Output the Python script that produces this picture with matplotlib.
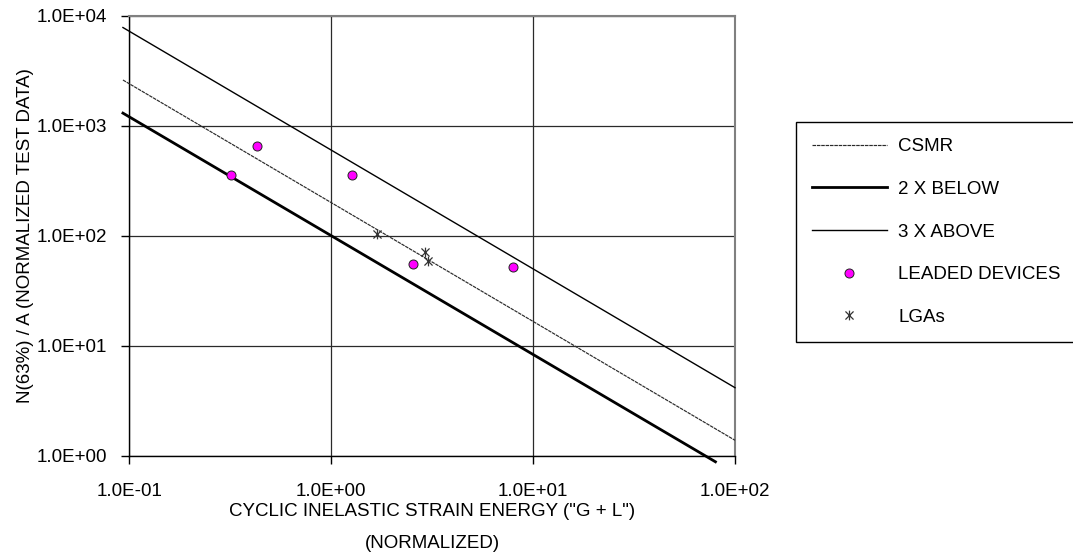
import matplotlib
matplotlib.use("Agg")
import matplotlib.pyplot as plt
from matplotlib.path import Path
from matplotlib.ticker import FuncFormatter, LogLocator, NullLocator

plt.rcParams["font.family"] = ["Liberation Sans", "DejaVu Sans"]
plt.rcParams["font.size"] = 13.5

# fitted life lines (end points)
csmr_x = [0.093, 100]
csmr_y = [2600, 1.38]
below_x = [0.093, 80]
below_y = [1300, 0.88]
above_x = [0.093, 100]
above_y = [7800, 4.15]

# test data
leaded_x = [0.32, 0.43, 1.27, 2.54, 7.96]
leaded_y = [357, 653, 357, 55, 52]
lga_x = [1.68, 2.92, 3.0]
lga_y = [103, 71, 59]

# excel-style star: X plus a vertical bar
star = Path([(-1, -1), (1, 1), (-1, 1), (1, -1), (0, -1.2), (0, 1.2)],
            [Path.MOVETO, Path.LINETO, Path.MOVETO, Path.LINETO,
             Path.MOVETO, Path.LINETO])

fig = plt.figure(figsize=(10.73, 5.57), dpi=100)
ax = fig.add_axes([0.1205, 0.1819, 0.5645, 0.790])

ax.plot(csmr_x, csmr_y, color="#2a2a2a", lw=0.85, ls=(0, (3, 0.7)),
        label="CSMR", clip_on=False, zorder=3)
ax.plot(below_x, below_y, color="black", lw=2.0, label="2 X BELOW",
        clip_on=False, zorder=3)
ax.plot(above_x, above_y, color="black", lw=1.0, label="3 X ABOVE",
        clip_on=False, zorder=3)
ax.plot(leaded_x, leaded_y, ls="none", marker="o", ms=6.5,
        mfc="#ff00ff", mec="#222222", mew=0.7, label="LEADED DEVICES", zorder=4)
ax.plot(lga_x, lga_y, ls="none", marker=star, ms=7, mfc="none",
        mec="#333333", mew=0.9, label="LGAs", zorder=4)

ax.set_xscale("log")
ax.set_yscale("log")
ax.set_xlim(0.1, 100)
ax.set_ylim(1, 10000)
ax.xaxis.set_major_locator(LogLocator(base=10, numticks=10))
ax.yaxis.set_major_locator(LogLocator(base=10, numticks=10))
ax.xaxis.set_minor_locator(NullLocator())
ax.yaxis.set_minor_locator(NullLocator())
fmt = FuncFormatter(lambda v, p: f"{v:.1E}")
ax.xaxis.set_major_formatter(fmt)
ax.yaxis.set_major_formatter(fmt)
ax.tick_params(direction="out", length=6, width=1, color="black")
ax.tick_params(axis="x", pad=14)
ax.tick_params(axis="y", pad=10)

ax.grid(True, which="major", color="#2a2a2a", lw=0.9)
ax.set_axisbelow(True)
for s in ["left", "bottom"]:
    ax.spines[s].set_color("black")
    ax.spines[s].set_linewidth(1.0)
for s in ["top", "right"]:
    ax.spines[s].set_color("#808080")
    ax.spines[s].set_linewidth(1.5)

ax.set_xlabel('CYCLIC INELASTIC STRAIN ENERGY ("G + L")\n(NORMALIZED)',
              linespacing=2.1, labelpad=2)
ax.set_ylabel("N(63%) / A (NORMALIZED TEST DATA)", labelpad=2)

leg = fig.legend(loc="upper left", bbox_to_anchor=(796 / 1073, 1 - 122.3 / 557),
                 frameon=True, fancybox=False, framealpha=1, edgecolor="black",
                 borderpad=0.85, handlelength=4.0, handletextpad=0.6,
                 labelspacing=1.36, borderaxespad=0)
leg.get_frame().set_linewidth(1.0)

fig.savefig("out.png", dpi=100)
